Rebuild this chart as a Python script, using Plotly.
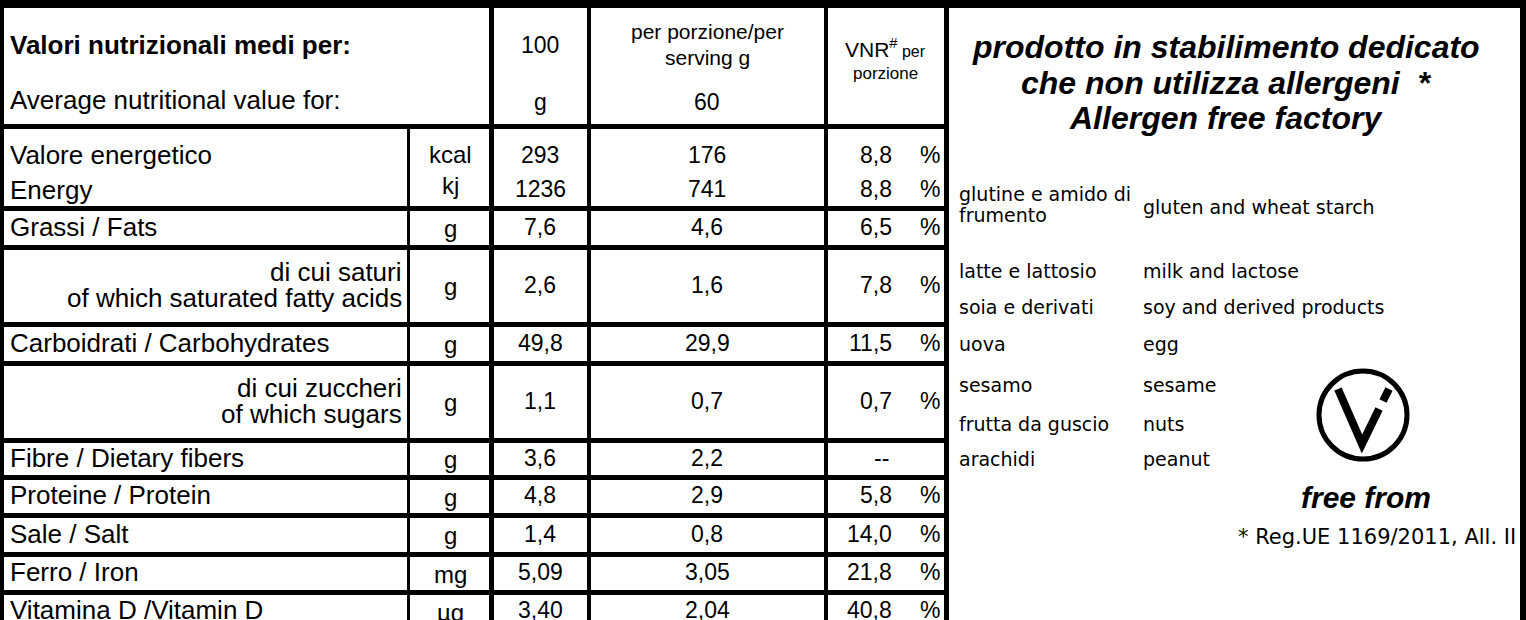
import plotly.graph_objects as go

# ---------------- data ----------------
header_it = "Valori nutrizionali medi per:"
header_en = "Average nutritional value for:"
col_100 = ["100", "g"]
col_serving = ["per porzione/per", "serving g", "60"]

energy_labels = ["Valore energetico", "Energy"]
energy_units = ["kcal", "kj"]
energy_per100 = ["293", "1236"]
energy_serving = ["176", "741"]
energy_vnr = ["8,8", "8,8"]

nutrient_labels = [
    ["Grassi / Fats"],
    ["di cui saturi", "of which saturated fatty acids"],
    ["Carboidrati / Carbohydrates"],
    ["di cui zuccheri", "of which sugars"],
    ["Fibre / Dietary fibers"],
    ["Proteine / Protein"],
    ["Sale / Salt"],
    ["Ferro / Iron"],
    ["Vitamina D /Vitamin D"],
]
nutrient_units = ["g", "g", "g", "g", "g", "g", "g", "mg", "µg"]
nutrient_per100 = ["7,6", "2,6", "49,8", "1,1", "3,6", "4,8", "1,4", "5,09", "3,40"]
nutrient_serving = ["4,6", "1,6", "29,9", "0,7", "2,2", "2,9", "0,8", "3,05", "2,04"]
nutrient_vnr = ["6,5", "7,8", "11,5", "0,7", "--", "5,8", "14,0", "21,8", "40,8"]

panel_title = ["prodotto in stabilimento dedicato", "che non utilizza allergeni  *", "Allergen free factory"]
allergens_it = [["glutine e amido di", "frumento"], ["latte e lattosio"], ["soia e derivati"], ["uova"],
                ["sesamo"], ["frutta da guscio"], ["arachidi"]]
allergens_en = ["gluten and wheat starch", "milk and lactose", "soy and derived products", "egg",
                "sesame", "nuts", "peanut"]
logo_caption = "free from"
footnote = "* Reg.UE 1169/2011, All. II"

# ---------------- layout geometry ----------------
W, H = 1526, 620
row_edges = [126, 208, 247, 324, 363, 440, 477, 515, 554, 592, 640]
X_LAB_R, X_UNIT_R, X_100_R, X_SERV_R, X_VNR_R = 409, 492, 589, 826, 947
TABLE_FONT = "Liberation Sans, Arial, sans-serif"
PANEL_FONT = "DejaVu Sans, Verdana, sans-serif"
FS_LAB = 26
FS_NUM = 23
FS_PANEL = 19

shapes = []
ann = []


def rect(x0, y0, x1, y1):
    shapes.append(dict(type="rect", xref="x", yref="y", x0=x0, x1=x1, y0=y0, y1=y1,
                       fillcolor="black", line=dict(width=0), layer="above"))


def txt(x, y, s, xa="center", size=FS_NUM, family=TABLE_FONT):
    ann.append(dict(x=x, y=y, text=s, xref="x", yref="y", showarrow=False, xanchor=xa,
                    yanchor="middle", font=dict(family=family, size=size, color="black")))


# borders
rect(0, 0, W, 8)
rect(0, 0, 4, H)
rect(W - 6, 0, W, H)
# verticals
rect(X_LAB_R - 2, row_edges[0], X_LAB_R + 1, H)
rect(X_UNIT_R - 3, 0, X_UNIT_R + 2, H)
rect(X_100_R - 2, 0, X_100_R + 2, H)
rect(X_SERV_R - 2, 0, X_SERV_R + 2, H)
rect(X_VNR_R - 3, 0, X_VNR_R + 2, H)
# horizontal lines
for y in row_edges[:-1]:
    rect(0, y - 2, X_VNR_R, y + 3)

# header texts
txt(8, 45, "<b>" + header_it + "</b>", "left", size=FS_LAB)
txt(8, 100, header_en, "left", size=FS_LAB)
txt(540, 45, col_100[0])
txt(540, 102, col_100[1])
txt(707, 31, col_serving[0], size=21)
txt(707, 57, col_serving[1], size=21)
txt(707, 102, col_serving[2])
txt(885, 48, "VNR<sup>#</sup><span style='font-size:16px'> per</span>", size=21)
txt(885, 73, "porzione", size=17)

X_UNIT_C, X_100_C, X_SERV_C, X_VNR_NUM, X_PCT = 450, 540, 707, 894, 930

# energy rows
for i, yy in enumerate([155, 189]):
    txt(8, yy + (0 if i == 0 else 1), energy_labels[i], "left", size=FS_LAB)
    txt(X_UNIT_C, yy - 1 - (3 if i else 0), energy_units[i], size=24)
    txt(X_100_C, yy, energy_per100[i])
    txt(X_SERV_C, yy, energy_serving[i])
    txt(X_VNR_NUM, yy, energy_vnr[i], "right")
    txt(X_PCT, yy, "%")

# other nutrient rows
for k in range(len(nutrient_labels)):
    y0, y1 = row_edges[k + 1], row_edges[k + 2]
    if k == len(nutrient_labels) - 1:
        y1 = y0 + 38
    yc = (y0 + y1) / 2
    lab = nutrient_labels[k]
    if len(lab) == 1:
        txt(8, yc - 1, lab[0], "left", size=FS_LAB)
    else:
        txt(404, yc - 14, lab[0], "right", size=FS_LAB)
        txt(404, yc + 12, lab[1], "right", size=FS_LAB)
    txt(X_UNIT_C, yc + 1, nutrient_units[k], size=24)
    txt(X_100_C, yc - 1, nutrient_per100[k])
    txt(X_SERV_C, yc - 1, nutrient_serving[k])
    if nutrient_vnr[k] == "--":
        txt(881, yc - 1, nutrient_vnr[k])
    else:
        txt(X_VNR_NUM, yc - 1, nutrient_vnr[k], "right")
        txt(X_PCT, yc - 1, "%")

# right panel
for i, s in enumerate(panel_title):
    txt(1226, [47, 83, 118][i], "<b><i>" + s + "</i></b>", size=32)

allergen_y = [[194, 215], [271], [307], [344], [385], [424], [459]]
allergen_en_y = [207, 271, 307, 344, 385, 424, 459]
for i in range(len(allergens_it)):
    for j, s in enumerate(allergens_it[i]):
        txt(957, allergen_y[i][j], s, "left", size=FS_PANEL, family=PANEL_FONT)
    txt(1141, allergen_en_y[i], allergens_en[i], "left", size=FS_PANEL, family=PANEL_FONT)

# logo
cx, cy, r = 1363, 415, 44
shapes.append(dict(type="circle", xref="x", yref="y", x0=cx - r, x1=cx + r, y0=cy - r, y1=cy + r,
                   line=dict(color="black", width=5)))
shapes.append(dict(type="path", xref="x", yref="y",
                   path=f"M {cx-25},{cy-26} L {cx-1},{cy+29} L {cx+16},{cy-6}",
                   line=dict(color="black", width=8)))
shapes.append(dict(type="path", xref="x", yref="y",
                   path=f"M {cx+20},{cy-14} L {cx+26},{cy-26}",
                   line=dict(color="black", width=8)))
txt(1366, 497, "<b><i>" + logo_caption + "</i></b>", size=30)
txt(1518, 537, footnote, "right", size=21, family=PANEL_FONT)

fig = go.Figure()
fig.update_layout(
    width=W, height=H, margin=dict(l=0, r=0, t=0, b=0),
    paper_bgcolor="white", plot_bgcolor="white",
    xaxis=dict(range=[0, W], visible=False, fixedrange=True),
    yaxis=dict(range=[H, 0], visible=False, fixedrange=True),
    shapes=shapes, annotations=ann, showlegend=False,
)
fig.write_html(
    "out.html",
    config={"displayModeBar": False},
    post_script="document.body.style.margin='0';document.documentElement.style.overflow='hidden';",
)
